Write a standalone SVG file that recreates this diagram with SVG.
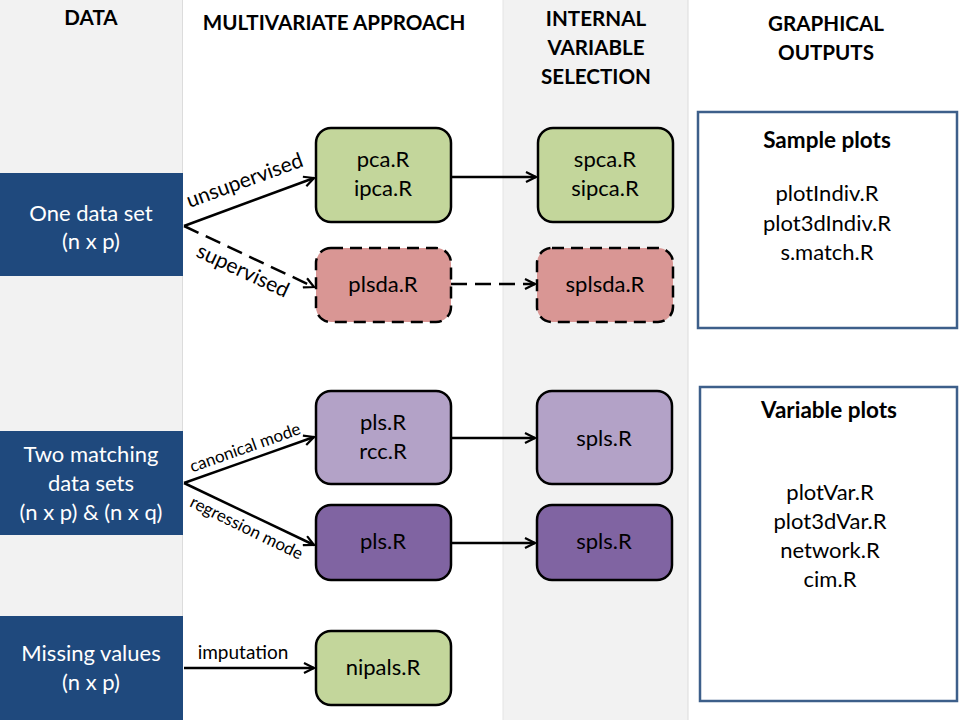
<svg xmlns="http://www.w3.org/2000/svg" width="960" height="720" viewBox="0 0 960 720">
<defs>
<marker id="ah" viewBox="0 0 12 12" refX="11" refY="6" markerWidth="12" markerHeight="12" markerUnits="userSpaceOnUse" orient="auto">
<path d="M1,1 L11,6 L1,11" fill="none" stroke="#000" stroke-width="2.2"/>
</marker>
</defs>
<style>
text{font-family:Lato,"Liberation Sans",sans-serif;text-anchor:middle;fill:#000}
.hd{font-size:20.6px;font-weight:bold}
.tt{font-size:22.5px;font-weight:bold}
.nt{font-size:22px}
.dt{font-size:22px;fill:#fff}
.lb{font-size:21px}
.lbs{font-size:17px}
.node{stroke:#000;stroke-width:2.5}
.dash{stroke-dasharray:12,7}
.data{fill:#1f497d}
.out{fill:#fff;stroke:#3d5f8a;stroke-width:2.5}
.c{stroke:#000;stroke-width:2.5;fill:none;marker-end:url(#ah)}
.cd{stroke-dasharray:16,8}
</style>
<rect width="960" height="720" fill="#fff"/>
<rect x="0" y="0" width="182" height="720" fill="#f2f2f2"/>
<line x1="182.5" y1="0" x2="182.5" y2="720" stroke="#dcdcdc"/>
<rect x="503" y="0" width="185" height="720" fill="#f2f2f2"/>
<line x1="503" y1="0" x2="503" y2="720" stroke="#e4e4e4"/>
<line x1="688" y1="0" x2="688" y2="720" stroke="#dcdcdc"/>

<g id="headers">
<text class="hd" x="91" y="25">DATA</text>
<text class="hd" x="334" y="30">MULTIVARIATE APPROACH</text>
<text class="hd" x="596" y="26">INTERNAL</text>
<text class="hd" x="596" y="55">VARIABLE</text>
<text class="hd" x="596" y="84">SELECTION</text>
<text class="hd" x="826" y="31">GRAPHICAL</text>
<text class="hd" x="826" y="60">OUTPUTS</text>
</g>

<g id="data1"><rect class="data" x="0" y="173" width="183" height="103"/>
<text class="dt" x="91" y="221">One data set</text><text class="dt" x="91" y="249">(n x p)</text></g>
<g id="data2"><rect class="data" x="0" y="431" width="183" height="104"/>
<text class="dt" x="91" y="462">Two matching</text><text class="dt" x="91" y="491">data sets</text><text class="dt" x="91" y="520">(n x p) &amp; (n x q)</text></g>
<g id="data3"><rect class="data" x="0" y="616" width="183" height="104"/>
<text class="dt" x="91" y="661">Missing values</text><text class="dt" x="91" y="690">(n x p)</text></g>

<g id="pca"><rect class="node" x="316" y="128" width="135" height="94" rx="15" fill="#c3d69b"/>
<text class="nt" x="383" y="167">pca.R</text><text class="nt" x="383" y="196">ipca.R</text></g>
<g id="spca"><rect class="node" x="538" y="128" width="135" height="94" rx="15" fill="#c3d69b"/>
<text class="nt" x="605" y="167">spca.R</text><text class="nt" x="605" y="196">sipca.R</text></g>
<g id="plsda"><rect class="node dash" x="316" y="248" width="135" height="74" rx="15" fill="#d99694"/>
<text class="nt" x="383" y="292">plsda.R</text></g>
<g id="splsda"><rect class="node dash" x="537" y="248" width="136" height="74" rx="15" fill="#d99694"/>
<text class="nt" x="605" y="292">splsda.R</text></g>
<g id="pls1"><rect class="node" x="316" y="391" width="135" height="93" rx="15" fill="#b3a2c7"/>
<text class="nt" x="383" y="430">pls.R</text><text class="nt" x="383" y="459">rcc.R</text></g>
<g id="spls1"><rect class="node" x="537" y="391" width="135" height="93" rx="15" fill="#b3a2c7"/>
<text class="nt" x="604" y="446">spls.R</text></g>
<g id="pls2"><rect class="node" x="316" y="505" width="135" height="75" rx="15" fill="#8064a2"/>
<text class="nt" x="383" y="549">pls.R</text></g>
<g id="spls2"><rect class="node" x="537" y="505" width="135" height="75" rx="15" fill="#8064a2"/>
<text class="nt" x="604" y="549">spls.R</text></g>
<g id="nipals"><rect class="node" x="316" y="631" width="135" height="74" rx="15" fill="#c3d69b"/>
<text class="nt" x="383" y="675">nipals.R</text></g>

<g id="sample"><rect class="out" x="698" y="112" width="259" height="216"/>
<text class="tt" x="827" y="148">Sample plots</text>
<text class="nt" x="827" y="201">plotIndiv.R</text>
<text class="nt" x="827" y="231">plot3dIndiv.R</text>
<text class="nt" x="827" y="260">s.match.R</text></g>
<g id="variable"><rect class="out" x="700" y="387" width="257" height="314"/>
<text class="tt" x="829" y="418">Variable plots</text>
<text class="nt" x="830" y="500">plotVar.R</text>
<text class="nt" x="830" y="529">plot3dVar.R</text>
<text class="nt" x="830" y="558">network.R</text>
<text class="nt" x="830" y="587">cim.R</text></g>

<g id="connectors">
<line class="c" x1="184" y1="226" x2="314" y2="178"/>
<line class="c cd" x1="184" y1="226" x2="314" y2="287"/>
<line class="c" x1="451" y1="177" x2="536" y2="177"/>
<line class="c cd" x1="451" y1="284" x2="535" y2="284"/>
<line class="c" x1="184" y1="483" x2="314" y2="437"/>
<line class="c" x1="184" y1="483" x2="314" y2="545"/>
<line class="c" x1="451" y1="438" x2="535" y2="438"/>
<line class="c" x1="451" y1="543" x2="535" y2="543"/>
<line class="c" x1="184" y1="668" x2="314" y2="668"/>
<text class="lb" transform="translate(247,187) rotate(-20)">unsupervised</text>
<text class="lb" transform="translate(240,277) rotate(25)">supervised</text>
<text class="lbs" transform="translate(247,453) rotate(-19.5)">canonical mode</text>
<text class="lbs" transform="translate(244,533) rotate(26)">regression mode</text>
<text class="lb" style="font-size:19px" x="243" y="659">imputation</text>
</g>
</svg>
